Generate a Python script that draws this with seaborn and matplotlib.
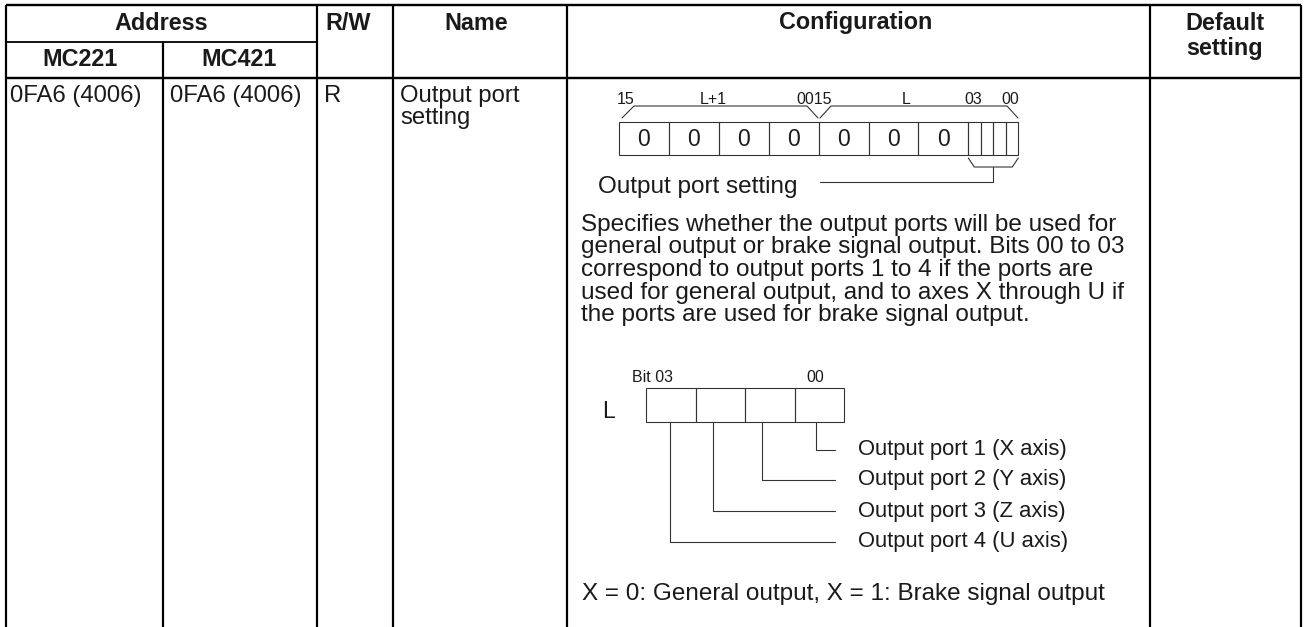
import matplotlib
matplotlib.use("Agg")
import matplotlib.pyplot as plt
import seaborn as sns

# ---------------- data (texts / values) ----------------
header_top = ["Address", "R/W", "Name", "Configuration", "Default\nsetting"]
header_sub = ["MC221", "MC421"]
row_address = ["0FA6 (4006)", "0FA6 (4006)"]
row_rw = "R"
row_name = ["Output port", "setting"]
bits_upper = ["0", "0", "0", "0", "0", "0", "0"]
bits_narrow = ["", "", "", ""]
bit_labels = ["15", "L+1", "0015", "L", "03", "00"]
register_caption = "Output port setting"
description = [
    "Specifies whether the output ports will be used for",
    "general output or brake signal output. Bits 00 to 03",
    "correspond to output ports 1 to 4 if the ports are",
    "used for general output, and to axes X through U if",
    "the ports are used for brake signal output.",
]
lower_reg_name = "L"
lower_bit_labels = ["Bit 03", "00"]
port_labels = [
    "Output port 1 (X axis)",
    "Output port 2 (Y axis)",
    "Output port 3 (Z axis)",
    "Output port 4 (U axis)",
]
note = "X = 0: General output, X = 1: Brake signal output"

# ---------------- figure ----------------
sns.set_style("white")
plt.rcParams["font.family"] = ["Liberation Sans", "DejaVu Sans"]

W, H = 1305, 627
fig = plt.figure(figsize=(W / 100, H / 100), dpi=100)
ax = fig.add_axes([0, 0, 1, 1])
ax.set_xlim(0, W)
ax.set_ylim(H, 0)
ax.axis("off")

TXT = "#1a1a1a"
LINE = "#000000"
DIAG = "#333333"
px = 72 / 100  # points per pixel

# ---------------- table grid ----------------
cols = [6, 163, 317, 393, 567, 1150, 1301]
thick = 2.4 * px
ax.hlines(5, cols[0], cols[-1], color=LINE, lw=thick)
ax.hlines(78, cols[0], cols[-1], color=LINE, lw=thick)
ax.hlines(42, cols[0], cols[2], color=LINE, lw=1.8 * px)
for i, x in enumerate(cols):
    top = 42 if i == 1 else 5
    ax.vlines(x, top, H + 2, color=LINE, lw=2.2 * px)

# ---------------- header texts ----------------
hfs = 16.8
ax.text((cols[0] + cols[2]) / 2, 23, header_top[0], ha="center", va="center",
        fontsize=hfs, fontweight="bold", color=TXT)
ax.text(348, 23, header_top[1], ha="center", va="center",
        fontsize=hfs, fontweight="bold", color=TXT)
ax.text(476, 23, header_top[2], ha="center", va="center",
        fontsize=hfs, fontweight="bold", color=TXT)
ax.text(856, 23, header_top[3], ha="center", va="center",
        fontsize=hfs, fontweight="bold", color=TXT)
for k, line in enumerate(header_top[4].split("\n")):
    ax.text(1225, 23 + 26 * k, line, ha="center", va="center",
            fontsize=hfs, fontweight="bold", color=TXT)
ax.text(80, 60, header_sub[0], ha="center", va="center",
        fontsize=hfs, fontweight="bold", color=TXT)
ax.text(239, 60, header_sub[1], ha="center", va="center",
        fontsize=hfs, fontweight="bold", color=TXT)

# ---------------- row texts ----------------
bfs = 17.2
ax.text(10, 96, row_address[0], ha="left", va="center", fontsize=bfs, color=TXT)
ax.text(170, 96, row_address[1], ha="left", va="center", fontsize=bfs, color=TXT)
ax.text(324, 96, row_rw, ha="left", va="center", fontsize=bfs, color=TXT)
for k, line in enumerate(row_name):
    ax.text(400, 96 + 22 * k, line, ha="left", va="center", fontsize=bfs, color=TXT)

# ---------------- upper register ----------------
dlw = 1.1 * px
x0, cw = 619, 49.9
ytop, ybot = 122, 155
for i, b in enumerate(bits_upper):
    ax.add_patch(plt.Rectangle((x0 + i * cw, ytop), cw, ybot - ytop,
                               fill=False, ec=DIAG, lw=dlw))
    ax.text(x0 + (i + 0.5) * cw, 139, b, ha="center", va="center",
            fontsize=16.5, color=TXT)
xn = x0 + 7 * cw
nw = 12.5
for i, b in enumerate(bits_narrow):
    ax.add_patch(plt.Rectangle((xn + i * nw, ytop), nw, ybot - ytop,
                               fill=False, ec=DIAG, lw=dlw))

sfs = 11.5
label_x = [626, 713, 814, 906, 973, 1010]
for lab, lx in zip(bit_labels, label_x):
    ax.text(lx, 99, lab, ha="center", va="center", fontsize=sfs, color=TXT)

# brackets above
ax.plot([622, 634, 807, 818], [118, 106, 106, 118], color=DIAG, lw=dlw)
ax.plot([820, 831, 1007, 1018], [118, 106, 106, 118], color=DIAG, lw=dlw)
# bracket below narrow cells with leader
xe = xn + 4 * nw
ax.plot([xn, xn + 6, xe - 6, xe], [158, 167, 167, 158], color=DIAG, lw=dlw)
xm = (xn + xe) / 2
ax.plot([xm, xm, 820], [167, 182, 182], color=DIAG, lw=dlw)

pfs = 17.5
ax.text(598, 187, register_caption, ha="left", va="center", fontsize=pfs, color=TXT)
for k, line in enumerate(description):
    ax.text(581, 225 + 22.5 * k, line, ha="left", va="center",
            fontsize=pfs, color=TXT, linespacing=1.0)

# ---------------- lower register ----------------
lx0, lcw = 646, 49.5
ltop, lbot = 388, 422
for i in range(4):
    ax.add_patch(plt.Rectangle((lx0 + i * lcw, ltop), lcw, lbot - ltop,
                               fill=False, ec=DIAG, lw=dlw))
ax.text(608, 411, lower_reg_name, ha="center", va="center", fontsize=16.5, color=TXT)
ax.text(632, 377, lower_bit_labels[0], ha="left", va="center", fontsize=sfs, color=TXT)
ax.text(815, 377, lower_bit_labels[1], ha="center", va="center", fontsize=sfs, color=TXT)

drop_x = [816, 762, 713, 670]
port_y = [450, 480, 511, 542]
for lab, dx, py in zip(port_labels, drop_x, port_y):
    ax.plot([dx, dx, 835], [lbot, py, py], color=DIAG, lw=dlw)
    ax.text(858, py, lab, ha="left", va="center", fontsize=15.8, color=TXT)

ax.text(582, 594, note, ha="left", va="center", fontsize=pfs, color=TXT)

fig.savefig("out.png", dpi=100, facecolor="white")
